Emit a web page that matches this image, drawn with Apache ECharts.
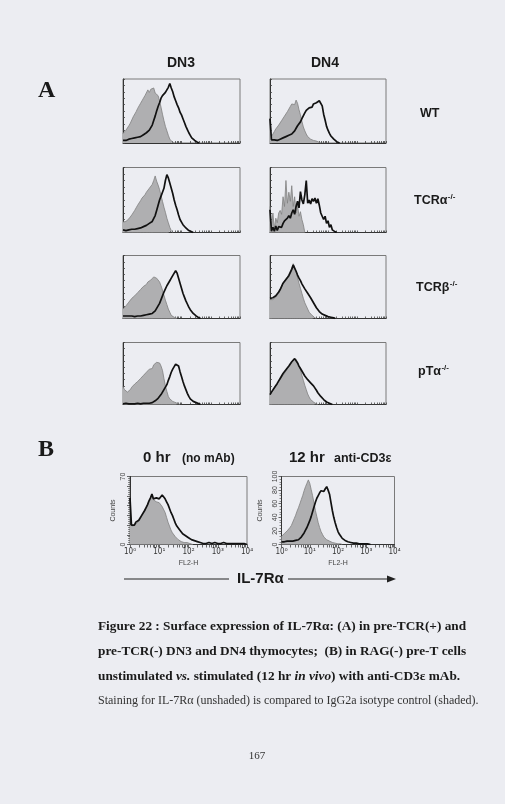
<!DOCTYPE html>
<html><head><meta charset="utf-8">
<script src="https://cdn.jsdelivr.net/npm/echarts@6/dist/echarts.min.js"></script>
<style>html,body{margin:0;padding:0;background:#ecedf2;}#c{width:505px;height:804px;}</style>
</head><body><div id="c"></div>
<script>
// log10 fluorescence bins (decades), 0..4 step 0.05
const bins = [0,0.05,0.1,0.15,0.2,0.25,0.3,0.35,0.4,0.45,0.5,0.55,0.6,0.65,0.7,0.75,0.8,0.85,0.9,0.95,
  1,1.05,1.1,1.15,1.2,1.25,1.3,1.35,1.4,1.45,1.5,1.55,1.6,1.65,1.7,1.75,1.8,1.85,1.9,1.95,
  2,2.05,2.1,2.15,2.2,2.25,2.3,2.35,2.4,2.45,2.5,2.55,2.6,2.65,2.7,2.75,2.8,2.85,2.9,2.95,
  3,3.05,3.1,3.15,3.2,3.25,3.3,3.35,3.4,3.45,3.5,3.55,3.6,3.65,3.7,3.75,3.8,3.85,3.9,3.95,4];
const xTickLabels = ['10⁰','10¹','10²','10³','10⁴'];
const columns = ['DN3','DN4'];
const rows = ['WT','TCRα','TCRβ','pTα'];
const rowSup = ['','-/-','-/-','-/-'];
const panelBTitles = ['0 hr','12 hr'];
const panelBSub = ['(no mAb)','anti-CD3ε'];

// Panel A (% of max), isotype control (shaded) and IL-7Rα (unshaded)
const dn3WtIso = [15,18,20,22,27,31,36,41,44,49,54,58,62,66,70,74,77,83,79,84,81,86,78,81,74,66,56,45,35,26,19,12,6,3,1,0];
const dn3WtIl7 = [4,5,4,5,6,6,7,7,8,8,9,10,10,12,13,15,16,18,20,22,28,35,42,50,57,63,70,74,77,79,82,87,93,86,80,72,66,60,55,48,44,38,32,26,21,16,12,8,6,4,2,1,0];
const dn4WtIso = [38,10,14,18,22,25,28,31,35,38,42,45,49,53,57,61,64,60,67,62,52,44,34,25,19,14,10,8,6,5,4,3,3,2,1,0];
const dn4WtIl7 = [38,5,4,5,5,4,6,6,7,8,9,10,11,12,13,14,15,19,23,27,30,33,38,41,47,51,53,55,58,56,61,58,63,60,66,69,58,45,36,26,20,15,11,8,6,4,2,1,0];
const dn3TaIso = [16,18,17,20,21,23,27,30,34,38,42,45,49,53,56,58,62,64,68,70,74,80,87,79,73,66,57,48,39,31,22,15,8,3,0];
const dn3TaIl7 = [4,4,3,4,4,4,5,4,5,6,6,7,7,8,9,10,11,12,14,16,17,19,26,34,42,50,56,62,68,80,89,84,76,68,60,50,42,35,27,20,16,12,9,7,5,3,2,1,0];
const dn4TaIso = [40,8,30,6,22,15,30,34,28,55,40,80,45,62,48,72,40,55,30,42,25,32,20,12,0];
const dn4TaIl7 = [35,2,8,2,10,3,9,12,8,14,18,15,22,26,22,30,35,28,40,48,38,63,50,44,58,80,45,50,44,52,48,53,45,52,42,30,28,20,25,14,18,8,12,4,6,1,0];
const dn3TbIso = [15,17,20,22,26,29,32,34,36,39,41,43,46,49,51,53,54,58,57,61,63,66,67,64,62,58,52,45,37,29,22,15,10,5,3,2,1,0];
const dn3TbIl7 = [4,3,4,3,4,3,4,4,3,4,4,5,4,5,5,5,6,6,7,7,8,9,12,16,20,24,30,36,42,47,52,56,60,64,68,71,76,72,64,56,48,40,34,28,23,18,14,11,8,6,4,3,1,0];
const dn4TbIso = [30,32,30,33,34,35,40,45,50,56,60,63,66,70,73,80,87,80,74,65,56,48,40,32,25,20,15,10,8,5,3,1,0];
const dn4TbIl7 = [32,34,33,35,36,37,42,46,51,56,59,62,65,68,71,78,85,80,75,69,64,60,55,51,47,44,40,37,33,29,25,21,17,14,11,9,7,6,5,4,3,2,2,1,1,0];
const dn3PtIso = [29,24,22,20,21,24,28,31,33,35,37,40,42,45,47,50,52,55,57,60,58,64,66,68,71,67,62,55,42,30,21,13,9,6,5,4,3,2,1,0];
const dn3PtIl7 = [1,1,2,1,1,2,1,2,1,2,2,2,1,2,2,2,2,2,2,3,3,4,6,8,10,12,16,20,24,28,32,39,45,52,57,61,65,68,62,53,45,37,30,24,18,13,9,7,5,4,3,2,1,0];
const dn4PtIso = [15,19,22,26,30,33,37,41,44,47,50,54,58,61,64,68,72,75,73,68,62,56,47,39,31,24,17,12,8,6,4,2,1,0];
const dn4PtIl7 = [16,20,23,27,30,34,38,42,46,50,53,56,59,62,65,69,72,74,72,67,62,58,54,50,46,43,40,37,35,33,30,27,23,19,16,13,10,8,6,4,3,2,1,0];

// Panel B (counts)
const b0Iso = [20,18,19,20,21,22,24,26,29,31,34,37,40,44,47,50,46,47,44,45,43,41,39,37,33,28,23,19,15,12,10,8,6,5,4,3,3,2,2,2,1,1,1,0];
const b0Il7 = [48,20,22,20,23,22,25,27,30,32,35,38,41,45,48,52,47,49,48,50,47,49,51,49,47,44,41,37,33,30,26,22,19,17,15,13,11,10,9,8,7,6,5,4,4,3,3,2,2,
  2,1,2,1,1,2,1,1,1,2,1,1,1,1,1,2,1,1,1,1,1,1,2,1,1,1,1,1,1,1,1,0];
const b12Iso = [12,14,16,18,20,22,25,28,33,38,43,49,54,60,66,72,79,85,90,95,90,81,72,61,50,41,32,25,19,15,11,9,7,6,5,4,3,3,2,2,1,1,1,0];
const b12Il7 = [4,4,4,4,5,5,5,5,5,6,6,6,7,9,11,14,17,21,25,30,35,41,48,55,62,68,72,76,79,80,78,82,85,80,74,62,50,40,32,25,19,15,12,9,7,6,5,4,3,3,2,2,2,2,1,1,1,1,1,1,1,1,1,0];
const b0Max = 70, b12Max = 100;

// ---------- layout ----------
const logTicks = [];
for (let d = 0; d < 4; d++) for (let k = 1; k <= 9; k++) logTicks.push(d + Math.log10(k));
logTicks.push(4);

const aTops = [79, 167.5, 255.5, 342.5], aHeights = [64, 65, 63, 62];
const aData = [[dn3WtIso, dn3WtIl7, dn4WtIso, dn4WtIl7],[dn3TaIso, dn3TaIl7, dn4TaIso, dn4TaIl7],
               [dn3TbIso, dn3TbIl7, dn4TbIso, dn4TbIl7],[dn3PtIso, dn3PtIl7, dn4PtIso, dn4PtIl7]];
const panels = [];
for (let r = 0; r < 4; r++) {
  panels.push({kind:'A', grid:{left:123, top:aTops[r], width:117, height:aHeights[r]}, iso:aData[r][0], il7:aData[r][1], ymax:100});
  panels.push({kind:'A', grid:{left:270, top:aTops[r], width:116, height:aHeights[r]}, iso:aData[r][2], il7:aData[r][3], ymax:100});
}
panels.push({kind:'B', grid:{left:130, top:476.5, width:117, height:68}, iso:b0Iso, il7:b0Il7, ymax:b0Max, interval:10, showAll:false});
panels.push({kind:'B', grid:{left:281.5, top:476.5, width:113, height:68}, iso:b12Iso, il7:b12Il7, ymax:b12Max, interval:20, showAll:true});

const pair = arr => arr.map((v, i) => [bins[i], v]);
const grids = [], xAxes = [], yAxes = [], series = [];
panels.forEach((p, i) => {
  grids.push(Object.assign({show:true, borderColor:'#7a7a7a', borderWidth:1, backgroundColor:'rgba(0,0,0,0)'}, p.grid));
  const isB = p.kind === 'B';
  xAxes.push({
    gridIndex:i, type:'value', min:0, max:4,
    axisLine:{show:true, onZero:false, lineStyle:{color:'#333', width:1}},
    axisTick:{show:true, inside:!isB, length:isB?3:2, customValues:logTicks, lineStyle:{color:'#444', width:0.8}},
    axisLabel:isB ? {show:true, customValues:[0,1,2,3,4], margin:3, fontSize:8, color:'#333',
      fontFamily:'DejaVu Sans Condensed, DejaVu Sans', formatter: v => xTickLabels[v]} : {show:false},
    splitLine:{show:false},
    name: isB ? 'FL2-H' : '', nameLocation:'middle', nameGap:15,
    nameTextStyle:{fontSize:7, color:'#444', fontFamily:'Liberation Sans Narrow, Liberation Sans'}
  });
  yAxes.push({
    gridIndex:i, type:'value', min:0, max:p.ymax, interval:isB ? p.interval : 10,
    axisLine:{show:true, lineStyle:{color:'#333', width:1}},
    axisTick:{show:true, inside:!isB, length:isB?3:2, lineStyle:{color:'#444', width:0.8}},
    minorTick:{show:isB, splitNumber:5, length:2, lineStyle:{color:'#444', width:0.6}},
    axisLabel:isB ? {show:true, rotate:90, fontSize:7, color:'#444', margin:3, fontFamily:'Liberation Sans',
      formatter: v => (p.showAll || v === 0 || v === p.ymax) ? String(v) : ''} : {show:false},
    splitLine:{show:false},
    name: isB ? 'Counts' : '', nameLocation:'middle', nameGap:isB ? (p.showAll ? 18 : 13) : 0, nameRotate:90,
    nameTextStyle:{fontSize:7, color:'#444', fontFamily:'Liberation Sans'}
  });
  series.push({type:'line', xAxisIndex:i, yAxisIndex:i, data:pair(p.iso), showSymbol:false, z:2,
    lineStyle:{color:'#808080', width:0.8}, areaStyle:{color:'#afafb1', opacity:1}, animation:false});
  series.push({type:'line', xAxisIndex:i, yAxisIndex:i, data:pair(p.il7), showSymbol:false, z:3,
    lineStyle:{color:'#111', width:1.7}, animation:false});
});

const mctx = document.createElement('canvas').getContext('2d');
const textW = (t, font) => { mctx.font = font; return mctx.measureText(t).width; };
const T = (text, x, y, font, opts) => Object.assign({type:'text', z:10, style:Object.assign({text, x, y, font, fill:'#1a1a1a', textAlign:'left', textVerticalAlign:'middle'}, opts || {})});
const sans = '"Liberation Sans", Arial, sans-serif';
const serif = '"Liberation Serif", "Times New Roman", serif';
const rowY = [114, 201, 288, 372], rowX = [420, 414, 416, 418];
const rowFont = 'bold 12.5px ' + sans, supFont = 'bold 8px ' + sans;
const graphics = [
  T('A', 38, 91, 'bold 24px ' + serif),
  T(columns[0], 181, 63, 'bold 14px ' + sans, {textAlign:'center'}),
  T(columns[1], 325, 63, 'bold 14px ' + sans, {textAlign:'center'}),
  T('B', 38, 450, 'bold 24px ' + serif),
  T(panelBTitles[0], 143, 458, 'bold 15px ' + sans),
  T(panelBSub[0], 182, 459, 'bold 12px ' + sans),
  T(panelBTitles[1], 289, 458, 'bold 15px ' + sans),
  T(panelBSub[1], 334, 459, 'bold 12.5px ' + sans),
  {type:'line', z:10, shape:{x1:124, y1:579, x2:229, y2:579}, style:{stroke:'#222', lineWidth:1}},
  T('IL-7Rα', 237, 579, 'bold 15px ' + sans),
  {type:'line', z:10, shape:{x1:288, y1:579, x2:390, y2:579}, style:{stroke:'#222', lineWidth:1}},
  {type:'polygon', z:10, shape:{points:[[387,575.5],[396,579],[387,582.5]]}, style:{fill:'#222'}},
  T('Figure 22 : Surface expression of IL-7Rα: (A) in pre-TCR(+) and', 98, 627, 'bold 13.3px ' + serif),
  T('pre-TCR(-) DN3 and DN4 thymocytes;  (B) in RAG(-) pre-T cells', 98, 652, 'bold 13.3px ' + serif),
  {type:'text', z:10, style:{x:98, y:677, textVerticalAlign:'middle', fill:'#1a1a1a',
    text:'{b|unstimulated }{i|vs.}{b| stimulated (12 hr }{i|in vivo}{b|) with anti-CD3ε mAb.}',
    rich:{b:{font:'bold 13.3px ' + serif, fill:'#1a1a1a'}, i:{font:'italic bold 13.3px ' + serif, fill:'#1a1a1a'}}}},
  T('Staining for IL-7Rα (unshaded) is compared to IgG2a isotype control (shaded).', 98, 701, '12px ' + serif, {fill:'#333'}),
  T('167', 257, 756, '11px ' + serif, {textAlign:'center', fill:'#333'})
];
rows.forEach((r, k) => {
  graphics.push(T(r, rowX[k], rowY[k], rowFont));
  if (rowSup[k]) graphics.push(T(rowSup[k], rowX[k] + textW(r, rowFont) + 0.5, rowY[k] - 4, supFont));
});

const chart = echarts.init(document.getElementById('c'), null, {renderer:'canvas'});
chart.setOption({backgroundColor:'#ecedf2', animation:false, grid:grids, xAxis:xAxes, yAxis:yAxes, series, graphic:graphics});
</script></body></html>
